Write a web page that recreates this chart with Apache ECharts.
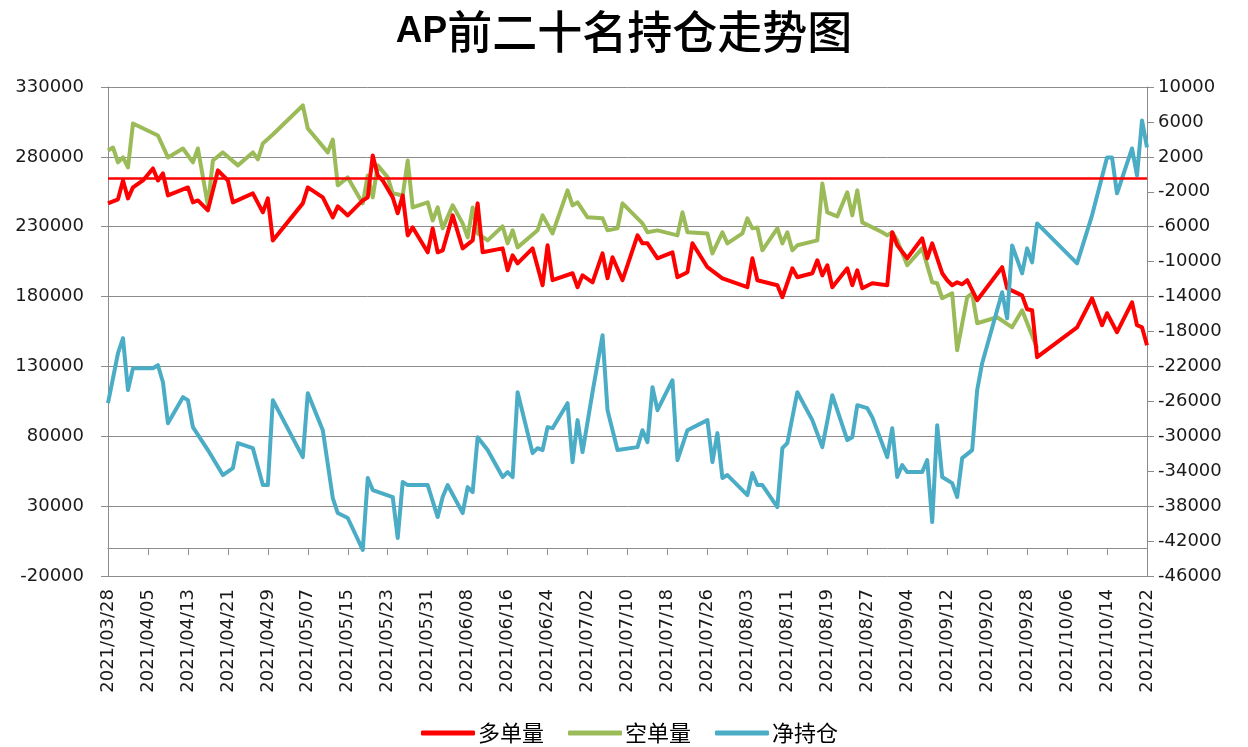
<!DOCTYPE html>
<html><head><meta charset="utf-8">
<script src="https://cdn.jsdelivr.net/npm/echarts@6/dist/echarts.min.js"></script>
<style>html,body{margin:0;padding:0;background:#fff}#c{width:1248px;height:747px}</style>
</head><body><div id="c"></div>
<script>
const chartTitle = 'AP前二十名持仓走势图';
const seriesNames = ['多单量', '空单量', '净持仓'];
const seriesColors = ['#FF0000', '#9BBB59', '#4BACC6'];

// x axis: calendar days from 2021-03-28 to 2021-10-22, label every 8 days
const xStart = '2021-03-28';
const xEnd = '2021-10-22';
const xStepDays = 8;

// left axis (多单量 / 空单量)
const leftMin = -20000, leftMax = 330000, leftStep = 50000;
// right axis (净持仓)
const rightMin = -46000, rightMax = 10000, rightStep = 4000;
// red reference line on the left axis
const refLineValue = 265000;

const longPos = [
['2021-03-28',246700],['2021-03-30',249600],['2021-03-31',263100],['2021-04-01',250300],['2021-04-02',258100],
['2021-04-04',263100],['2021-04-06',271700],['2021-04-07',263100],['2021-04-08',268100],['2021-04-09',252400],
['2021-04-13',258100],['2021-04-14',247400],['2021-04-15',248800],['2021-04-17',241700],['2021-04-19',270300],
['2021-04-21',263100],['2021-04-22',247400],['2021-04-26',253900],['2021-04-28',240300],['2021-04-29',250300],
['2021-04-30',220200],['2021-05-06',246700],['2021-05-07',258100],['2021-05-10',251000],['2021-05-12',236700],
['2021-05-13',244600],['2021-05-15',238100],['2021-05-18',248800],['2021-05-19',251000],['2021-05-20',281000],
['2021-05-21',266700],['2021-05-22',263100],['2021-05-24',251000],['2021-05-25',239600],['2021-05-26',252400],
['2021-05-27',223800],['2021-05-28',229500],['2021-05-31',211700],['2021-06-01',228800],['2021-06-02',211700],
['2021-06-03',213100],['2021-06-05',238100],['2021-06-07',214500],['2021-06-09',220200],['2021-06-10',246700],
['2021-06-11',211700],['2021-06-15',214500],['2021-06-16',198800],['2021-06-17',209500],['2021-06-18',203800],
['2021-06-21',214500],['2021-06-23',188100],['2021-06-24',216700],['2021-06-25',191700],['2021-06-29',196700],
['2021-06-30',186700],['2021-07-01',195200],['2021-07-03',190200],['2021-07-05',210900],['2021-07-06',193100],
['2021-07-07',208100],['2021-07-09',191700],['2021-07-12',223800],['2021-07-13',218100],['2021-07-14',218100],
['2021-07-16',207400],['2021-07-19',211700],['2021-07-20',193800],['2021-07-22',197400],['2021-07-23',218100],
['2021-07-26',201000],['2021-07-29',193100],['2021-08-03',186700],['2021-08-04',207400],['2021-08-05',191700],
['2021-08-09',188100],['2021-08-10',179500],['2021-08-12',200200],['2021-08-13',193800],['2021-08-16',196700],
['2021-08-17',206000],['2021-08-18',195200],['2021-08-19',202400],['2021-08-20',186700],['2021-08-23',200200],
['2021-08-24',188100],['2021-08-25',198800],['2021-08-26',185900],['2021-08-28',189500],['2021-08-31',188100],
['2021-09-01',226000],['2021-09-02',216700],['2021-09-04',207400],['2021-09-07',221700],['2021-09-08',207400],
['2021-09-09',218100],['2021-09-11',196700],['2021-09-12',191700],['2021-09-13',188100],['2021-09-14',190200],
['2021-09-15',188800],['2021-09-16',191700],['2021-09-18',177400],['2021-09-23',201000],['2021-09-24',185900],
['2021-09-27',180900],['2021-09-28',170900],['2021-09-29',170200],['2021-09-30',136600],['2021-10-08',158000],
['2021-10-11',178800],['2021-10-13',159500],['2021-10-14',168100],['2021-10-16',154500],['2021-10-19',175900],
['2021-10-20',159500],['2021-10-21',158000],['2021-10-22',145200]
];

const shortPos = [
['2021-03-28',284600],['2021-03-29',286700],['2021-03-30',276000],['2021-03-31',279600],['2021-04-01',272400],
['2021-04-02',303900],['2021-04-07',295300],['2021-04-09',279600],['2021-04-12',286000],['2021-04-14',276000],
['2021-04-15',286000],['2021-04-17',245300],['2021-04-18',277400],['2021-04-20',283200],['2021-04-23',273900],
['2021-04-26',283200],['2021-04-27',278200],['2021-04-28',289600],['2021-04-30',296000],['2021-05-06',316800],
['2021-05-07',300300],['2021-05-11',283200],['2021-05-12',292400],['2021-05-13',259600],['2021-05-15',265300],
['2021-05-18',246700],['2021-05-19',266700],['2021-05-20',251000],['2021-05-21',273900],['2021-05-23',265300],
['2021-05-24',253900],['2021-05-26',252400],['2021-05-27',277400],['2021-05-28',243800],['2021-05-31',247400],
['2021-06-01',234500],['2021-06-02',243800],['2021-06-03',228800],['2021-06-05',245300],['2021-06-07',232400],
['2021-06-08',222400],['2021-06-09',243800],['2021-06-10',225200],['2021-06-12',220200],['2021-06-15',230300],
['2021-06-16',218100],['2021-06-17',227400],['2021-06-18',215200],['2021-06-22',227400],['2021-06-23',238100],
['2021-06-25',225200],['2021-06-28',256000],['2021-06-29',245300],['2021-06-30',247400],['2021-07-02',236700],
['2021-07-05',236000],['2021-07-06',227400],['2021-07-08',228800],['2021-07-09',246700],['2021-07-13',232400],
['2021-07-14',226000],['2021-07-16',227400],['2021-07-20',223800],['2021-07-21',240300],['2021-07-22',226000],
['2021-07-26',225200],['2021-07-27',210900],['2021-07-29',226000],['2021-07-30',218100],['2021-08-02',225200],
['2021-08-03',236000],['2021-08-04',228800],['2021-08-05',229500],['2021-08-06',213100],['2021-08-09',228800],
['2021-08-10',218100],['2021-08-11',226000],['2021-08-12',213100],['2021-08-13',216700],['2021-08-17',220200],
['2021-08-18',261000],['2021-08-19',240300],['2021-08-21',237400],['2021-08-23',254600],['2021-08-24',238100],
['2021-08-25',256000],['2021-08-26',233100],['2021-08-30',226000],['2021-08-31',223800],['2021-09-01',226000],
['2021-09-02',220200],['2021-09-04',202400],['2021-09-07',214500],['2021-09-09',190200],['2021-09-10',189500],
['2021-09-11',178800],['2021-09-13',182400],['2021-09-14',141600],['2021-09-16',179500],['2021-09-17',182400],
['2021-09-18',160900],['2021-09-22',165200],['2021-09-25',158000],['2021-09-27',170200],['2021-09-30',143000]
];

const netPos = [
['2021-03-28',-26210],['2021-03-30',-20490],['2021-03-31',-18770],['2021-04-01',-24720],['2021-04-02',-22200],
['2021-04-06',-22200],['2021-04-07',-21860],['2021-04-08',-23810],['2021-04-09',-28500],['2021-04-12',-25520],
['2021-04-13',-25860],['2021-04-14',-28950],['2021-04-17',-31580],['2021-04-20',-34440],['2021-04-22',-33640],
['2021-04-23',-30780],['2021-04-26',-31360],['2021-04-28',-35590],['2021-04-29',-35590],['2021-04-30',-25860],
['2021-05-06',-32390],['2021-05-07',-25060],['2021-05-10',-29300],['2021-05-12',-37070],['2021-05-13',-38790],
['2021-05-15',-39360],['2021-05-18',-43020],['2021-05-19',-34780],['2021-05-20',-36160],['2021-05-24',-36960],
['2021-05-25',-41650],['2021-05-26',-35240],['2021-05-27',-35590],['2021-05-31',-35590],['2021-06-02',-39250],
['2021-06-03',-36960],['2021-06-04',-35590],['2021-06-07',-38790],['2021-06-08',-35820],['2021-06-09',-36390],
['2021-06-10',-30100],['2021-06-12',-31580],['2021-06-15',-34670],['2021-06-16',-34100],['2021-06-17',-34670],
['2021-06-18',-24950],['2021-06-21',-31930],['2021-06-22',-31360],['2021-06-23',-31580],['2021-06-24',-28950],
['2021-06-25',-29070],['2021-06-28',-26210],['2021-06-29',-32960],['2021-06-30',-28150],['2021-07-01',-31810],
['2021-07-03',-24950],['2021-07-05',-18430],['2021-07-06',-27010],['2021-07-08',-31580],['2021-07-12',-31240],
['2021-07-13',-29300],['2021-07-14',-30670],['2021-07-15',-24380],['2021-07-16',-27010],['2021-07-19',-23580],
['2021-07-20',-32730],['2021-07-22',-29300],['2021-07-26',-28150],['2021-07-27',-32960],['2021-07-28',-29640],
['2021-07-29',-34780],['2021-07-30',-34440],['2021-08-03',-36730],['2021-08-04',-34210],['2021-08-05',-35590],
['2021-08-06',-35590],['2021-08-09',-38100],['2021-08-10',-31360],['2021-08-11',-30780],['2021-08-13',-24950],
['2021-08-16',-28150],['2021-08-18',-31240],['2021-08-20',-25290],['2021-08-23',-30440],['2021-08-24',-30100],
['2021-08-25',-26440],['2021-08-27',-26780],['2021-08-28',-27810],['2021-08-31',-32390],['2021-09-01',-29070],
['2021-09-02',-34670],['2021-09-03',-33300],['2021-09-04',-34100],['2021-09-07',-34100],['2021-09-08',-32730],
['2021-09-09',-39820],['2021-09-10',-28730],['2021-09-11',-34670],['2021-09-13',-35360],['2021-09-14',-36960],
['2021-09-15',-32500],['2021-09-17',-31580],['2021-09-18',-24720],['2021-09-19',-21630],['2021-09-23',-13510],
['2021-09-24',-16490],['2021-09-25',-8140],['2021-09-27',-11340],['2021-09-28',-8480],['2021-09-29',-10080],
['2021-09-30',-5620],['2021-10-08',-10190],['2021-10-11',-4700],['2021-10-14',1930],['2021-10-15',1930],
['2021-10-16',-2180],['2021-10-19',2960],['2021-10-20',-130],['2021-10-21',6170],['2021-10-22',3080]
];

// ---- helpers: dates -> day offset from xStart (value axis) ----
const DAY = 86400000;
function toUTC(s) { const p = s.split('-').map(Number); return Date.UTC(p[0], p[1] - 1, p[2]); }
const x0 = toUTC(xStart);
const xMaxDay = Math.round((toUTC(xEnd) - x0) / DAY);
function dayOf(s) { return Math.round((toUTC(s) - x0) / DAY); }
function pad(n) { return (n < 10 ? '0' : '') + n; }
function dayLabel(v) {
  const d = new Date(x0 + v * DAY);
  return d.getUTCFullYear() + '/' + pad(d.getUTCMonth() + 1) + '/' + pad(d.getUTCDate());
}
function plainNum(v) { return String(Math.round(v)); }
function toPoints(arr) { return arr.map(r => [dayOf(r[0]), r[1]]); }

const gridColor = '#8C8C8C';
const textColor = '#1a1a1a';
const numFont = 'DejaVu Sans';
const cjkFont = '"Noto Sans CJK SC", "Noto Sans", sans-serif';

const chart = echarts.init(document.getElementById('c'), null, { renderer: 'canvas' });

chart.setOption({
  backgroundColor: '#ffffff',
  animation: false,
  title: {
    text: '{a|AP}{b|前二十名持仓走势图}',
    left: 'center',
    top: 4,
    textStyle: {
      rich: {
        a: { fontFamily: 'Liberation Sans', fontWeight: 'bold', fontSize: 37, color: '#000' },
        b: { fontFamily: cjkFont, fontWeight: 500, fontSize: 45, color: '#000' }
      }
    }
  },
  legend: {
    data: seriesNames,
    left: 416,
    top: 717,
    itemWidth: 54,
    itemHeight: 5,
    itemGap: 24,
    icon: 'roundRect',
    textStyle: { fontFamily: cjkFont, fontSize: 22, color: '#000', padding: [0, 0, 0, -2] }
  },
  grid: { left: 108, right: 101, top: 87, bottom: 171, containLabel: false },
  xAxis: [
    {
      type: 'value', min: 0, max: xMaxDay, interval: xStepDays,
      position: 'bottom',
      axisLine: { show: false, onZero: false },
      axisTick: { show: false },
      splitLine: { show: false },
      axisLabel: {
        rotate: 90, margin: 13, formatter: dayLabel,
        fontFamily: numFont, fontSize: 18, color: textColor
      }
    },
    {
      type: 'value', min: 0, max: xMaxDay, interval: xStepDays,
      position: 'bottom',
      axisLine: { show: true, onZero: true, onZeroAxisIndex: 0, lineStyle: { color: gridColor, width: 1 } },
      axisTick: { show: true, length: 7, inside: false, lineStyle: { color: gridColor } },
      splitLine: { show: false },
      axisLabel: { show: false }
    }
  ],
  yAxis: [
    {
      type: 'value', min: leftMin, max: leftMax, interval: leftStep, position: 'left',
      axisLine: { show: true, onZero: false, lineStyle: { color: gridColor } },
      axisTick: { show: true, length: 7, lineStyle: { color: gridColor } },
      splitLine: { show: true, lineStyle: { color: gridColor, width: 1 } },
      axisLabel: { margin: 24, formatter: plainNum, fontFamily: numFont, fontSize: 18, color: textColor }
    },
    {
      type: 'value', min: rightMin, max: rightMax, interval: rightStep, position: 'right',
      axisLine: { show: true, onZero: false, lineStyle: { color: gridColor } },
      axisTick: { show: true, length: 7, lineStyle: { color: gridColor } },
      splitLine: { show: false },
      axisLabel: { margin: 11, formatter: plainNum, fontFamily: numFont, fontSize: 18, color: textColor }
    }
  ],
  series: [
    {
      name: seriesNames[0], type: 'line', xAxisIndex: 0, yAxisIndex: 0,
      data: toPoints(longPos), showSymbol: false, symbol: 'none',
      lineStyle: { color: seriesColors[0], width: 4, join: 'round' },
      itemStyle: { color: seriesColors[0] },
      markLine: {
        silent: true, symbol: 'none', label: { show: false },
        lineStyle: { color: '#FF0000', width: 2.5, type: 'solid' },
        data: [{ yAxis: refLineValue }]
      },
      z: 3
    },
    {
      name: seriesNames[1], type: 'line', xAxisIndex: 0, yAxisIndex: 0,
      data: toPoints(shortPos), showSymbol: false, symbol: 'none',
      lineStyle: { color: seriesColors[1], width: 4, join: 'round' },
      itemStyle: { color: seriesColors[1] },
      z: 2
    },
    {
      name: seriesNames[2], type: 'line', xAxisIndex: 0, yAxisIndex: 1,
      data: toPoints(netPos), showSymbol: false, symbol: 'none',
      lineStyle: { color: seriesColors[2], width: 4, join: 'round' },
      itemStyle: { color: seriesColors[2] },
      z: 4
    }
  ]
});
</script>
</body></html>
